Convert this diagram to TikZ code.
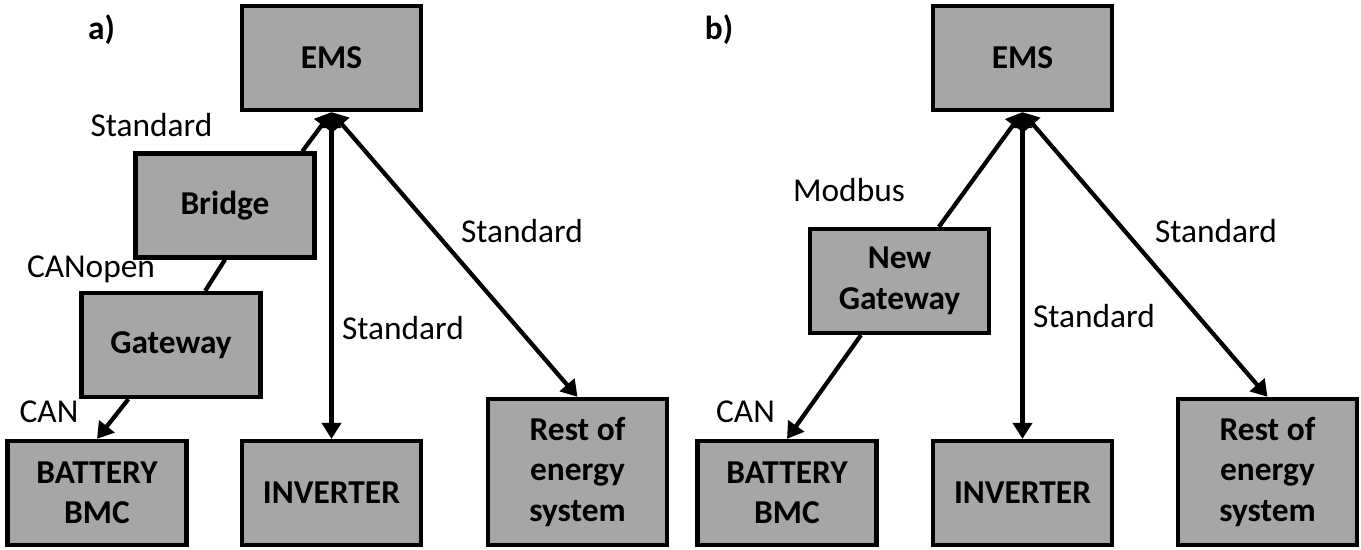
\documentclass[tikz,border=0pt]{standalone}
\usepackage{fontspec}
\setmainfont{Carlito}
\usepackage{tikz}
\usetikzlibrary{arrows.meta}
\definecolor{boxgray}{RGB}{166,166,166}

\begin{document}
\begin{tikzpicture}[
		>={Triangle[length=0.32cm,width=0.38cm]},
		line width=0.085cm,
		box/.style={draw=black, fill=boxgray, minimum width=3.58cm, minimum height=2.08cm,
			align=center, font=\fontsize{19}{23}\selectfont\bfseries},
		lbl/.style={anchor=base, inner sep=0pt, font=\fontsize{19}{23}\selectfont}
	]
		\useasboundingbox (0,0) rectangle (27.22,11);

		% a) Bridge und Gateway
		\node[box] (EMSa) at (6.63,9.84) {EMS};
		\node[box] (Bridge) at (4.5,6.89) {Bridge};
		\node[box] (Gateway) at (3.42,4.10) {Gateway};
		\node[box] (BattA) at (1.94,1.14) {BATTERY\\BMC};
		\node[box] (InvA) at (6.63,1.14) {INVERTER};
		\node[box, minimum height=2.92cm] (RestA) at (11.55,1.56) {Rest of\\energy\\system};

		% b) neues Gateway
		\node[box] (EMSb) at (20.45,9.84) {EMS};
		\node[box] (NewGw) at (17.99,5.38) {New\\Gateway};
		\node[box] (BattB) at (15.74,1.14) {BATTERY\\BMC};
		\node[box] (InvB) at (20.45,1.14) {INVERTER};
		\node[box, minimum height=2.92cm] (RestB) at (25.35,1.56) {Rest of\\energy\\system};

		% Beschriftung
		\node[lbl, font=\fontsize{19}{23}\selectfont\bfseries] (titleA) at (2.03,10.2) {a)};
		\node[lbl, font=\fontsize{19}{23}\selectfont\bfseries] (titleB) at (14.38,10.2) {b)};
		\node[lbl] (stdBridge) at (3.03,8.26) {Standard};
		\node[lbl] (canopen) at (1.82,5.44) {CANopen};
		\node[lbl] (canA) at (0.98,2.54) {CAN};
		\node[lbl] (stdInvA) at (8.06,4.20) {Standard};
		\node[lbl] (stdRestA) at (10.44,6.14) {Standard};
		\node[lbl] (modbus) at (16.98,6.96) {Modbus};
		\node[lbl] (canB) at (14.91,2.54) {CAN};
		\node[lbl] (stdInvB) at (21.88,4.44) {Standard};
		\node[lbl] (stdRestB) at (24.32,6.14) {Standard};

		\draw[->] (Bridge.35) -- (EMSa.south);
		\draw (Bridge.south) -- (Gateway);
		\draw[->] (Gateway) -- (BattA.north);
		\draw[<->] (EMSa.south) -- (InvA.north);
		\draw[<->] (EMSa.south) -- (RestA.north);

		\draw[->] (NewGw) -- (EMSb.south);
		\draw[->] (NewGw) -- (BattB.north);
		\draw[<->] (EMSb.south) -- (InvB.north);
		\draw[<->] (EMSb.south) -- (RestB.north);
\end{tikzpicture}
\end{document}
